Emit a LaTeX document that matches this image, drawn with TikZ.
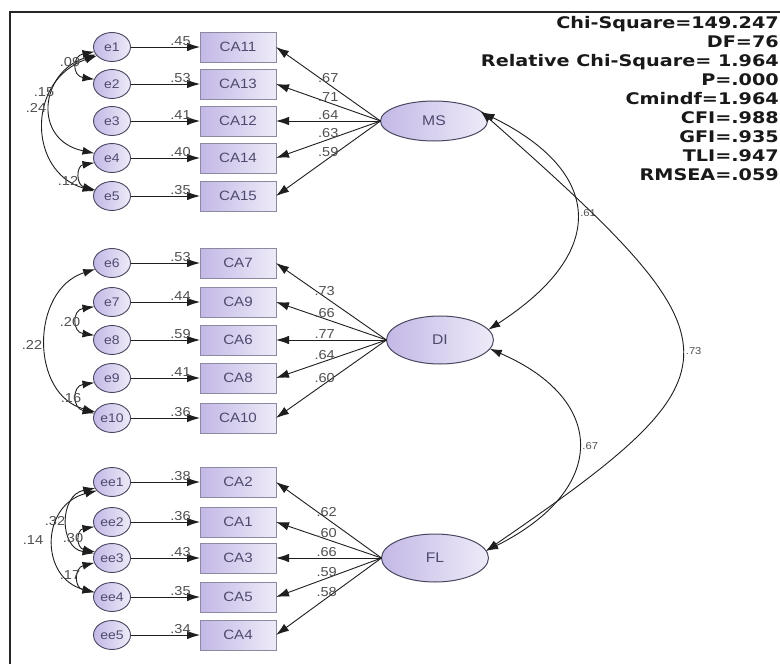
\documentclass[tikz,border=0pt]{standalone}
\usepackage{fontspec}
\setmainfont{Liberation Sans}[FakeStretch=1.12]
\newfontfamily\fitfont{DejaVu Sans}[FakeStretch=1.2]
\usetikzlibrary{arrows.meta,shapes.geometric}
\definecolor{lavdark}{HTML}{C3B8E6}
\definecolor{lavlight}{HTML}{EEEBF8}
\definecolor{boxline}{HTML}{8C8AA0}
\definecolor{errline}{HTML}{4A4760}
\definecolor{nodetext}{HTML}{4E4A6E}
\definecolor{lblgray}{HTML}{505050}
\definecolor{linecol}{HTML}{1E1E1E}
\tikzset{
  errnode/.style={ellipse, draw=errline, line width=0.9pt, minimum width=37pt, minimum height=29pt,
    inner sep=0pt, outer sep=0pt, left color=lavdark, right color=lavlight, text=nodetext,
    font=\fontsize{12.5}{13}\selectfont},
  obsnode/.style={rectangle, draw=boxline, line width=0.9pt, minimum width=76pt, minimum height=30pt,
    inner sep=0pt, outer sep=0pt, left color=lavdark, right color=lavlight, text=nodetext,
    font=\fontsize{13.5}{14}\selectfont},
  latnode/.style={ellipse, draw=errline, line width=1pt, minimum width=107pt, minimum height=40pt,
    inner sep=0pt, outer sep=0pt, left color=lavdark, right color=lavlight, text=nodetext,
    font=\fontsize{14}{14}\selectfont},
  lbl/.style={font=\fontsize{13}{13}\selectfont, text=lblgray, inner sep=1pt},
  slbl/.style={font=\fontsize{10}{11}\selectfont, text=lblgray, inner sep=1pt},
  arr/.style={-{Latex[length=13pt,width=8.5pt]}, line width=0.9pt, draw=linecol},
  cov/.style={{Latex[length=12pt,width=8pt]}-{Latex[length=12pt,width=8pt]}, line width=0.9pt, draw=linecol},
  fitstat/.style={font=\fitfont\bfseries\fontsize{16}{19}\selectfont, text=black!90, align=right, inner sep=0pt}
}
\begin{document}
\begin{tikzpicture}[x=1pt,y=-1pt]
\useasboundingbox (0,0) rectangle (780,664);
\fill[white] (0,0) rectangle (780,664);
\draw[line width=2.2pt, draw=black!85] (10,664) -- (10,12) -- (780,12);

% latent variables
\node[latnode] (MS) at (434,121) {MS};
\node[latnode, minimum height=48pt] (DI) at (440,340) {DI};
\node[latnode, minimum height=48pt] (FL) at (435,558) {FL};

% indicators and errors
\foreach \e/\c/\y in {e1/CA11/47, e2/CA13/84, e3/CA12/121, e4/CA14/158, e5/CA15/196,
                      e6/CA7/263, e7/CA9/302, e8/CA6/340, e9/CA8/378, e10/CA10/418,
                      ee1/CA2/482, ee2/CA1/522, ee3/CA3/558, ee4/CA5/597, ee5/CA4/635}{
  \node[errnode] (\e) at (112,\y) {\e};
  \node[obsnode] (\c) at (238,\y) {\c};
}

% error paths
\foreach \e/\c/\v in {e1/CA11/.45, e2/CA13/.53, e3/CA12/.41, e4/CA14/.40, e5/CA15/.35,
                      e6/CA7/.53, e7/CA9/.44, e8/CA6/.59, e9/CA8/.41, e10/CA10/.36,
                      ee1/CA2/.38, ee2/CA1/.36, ee3/CA3/.43, ee4/CA5/.35, ee5/CA4/.34}{
  \draw[arr] (\e) -- node[lbl, pos=0.72, above] {\v} (\c);
}

% loadings
\foreach \c/\v in {CA11/.67, CA13/.71, CA12/.64, CA14/.63, CA15/.59}{
  \draw[arr] (MS.west) -- node[lbl, pos=0.5, above] {\v} (\c.east);
}
\foreach \c/\v in {CA7/.73, CA9/.66, CA6/.77, CA8/.64, CA10/.60}{
  \draw[arr] (DI.west) -- node[lbl, pos=0.56, above] {\v} (\c.east);
}
\foreach \c/\v in {CA2/.62, CA1/.60, CA3/.66, CA5/.59, CA4/.58}{
  \draw[arr] (FL.west) -- node[lbl, pos=0.52, above] {\v} (\c.east);
}

% covariances between errors, group 1
\draw[cov] (e1.195) .. controls (72,56) and (72,76) .. (e2.165);
\draw[cov] (e1.205) .. controls (40,72) and (32,140) .. (e4.165);
\draw[cov] (e1.210) .. controls (26,80) and (28,172) .. (e5.165);
\draw[cov] (e4.195) .. controls (76,166) and (76,185) .. (e5.160);
\node[lbl] at (70,62) {.09};
\node[lbl] at (44,92) {.15};
\node[lbl] at (36,108) {.24};
\node[lbl] at (68,181) {.12};

% group 2
\draw[cov] (e6.200) .. controls (30,290) and (30,395) .. (e10.160);
\draw[cov] (e7.195) .. controls (72,310) and (72,332) .. (e8.165);
\draw[cov] (e9.195) .. controls (72,386) and (72,408) .. (e10.165);
\node[lbl] at (70,322) {.20};
\node[lbl] at (32,345) {.22};
\node[lbl] at (71,398) {.16};

% group 3
\draw[cov] (ee1.200) .. controls (59,495) and (59,548) .. (ee3.165);
\draw[cov] (ee1.210) .. controls (40,505) and (40,578) .. (ee4.165);
\draw[cov] (ee2.195) .. controls (76,530) and (76,548) .. (ee3.160);
\draw[cov] (ee3.195) .. controls (74,568) and (74,588) .. (ee4.165);
\node[lbl] at (55,521) {.32};
\node[lbl] at (33,540) {.14};
\node[lbl] at (73,538) {.30};
\node[lbl] at (70,575) {.17};

% covariances between latent variables
\draw[cov] (MS.10) .. controls (600,170) and (612,250) .. (DI.12)
  node[slbl, pos=0.5, right=3pt] {.61};
\draw[cov] (MS.12) .. controls (745,345) and (750,370) .. (FL.8)
  node[slbl, pos=0.5, right=3pt] {.73};
\draw[cov] (DI.-10) .. controls (608,400) and (608,490) .. (FL.8)
  node[slbl, pos=0.5, right=3pt] {.67};

% fit statistics
\node[fitstat, anchor=north east] (fit) at (779,16) {Chi-Square=149.247\\DF=76\\Relative Chi-Square= 1.964\\P=.000\\Cmindf=1.964\\CFI=.988\\GFI=.935\\TLI=.947\\RMSEA=.059};
\end{tikzpicture}
\end{document}
